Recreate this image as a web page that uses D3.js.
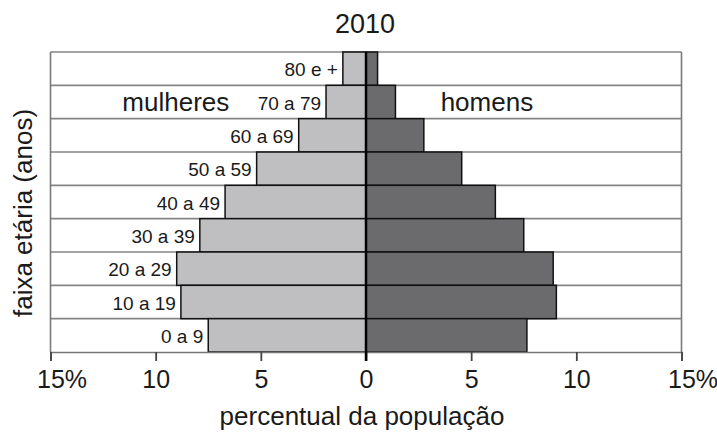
<!DOCTYPE html>
<html>
<head lang="pt">
  <title>Pirâmide etária 2010</title>
  <script src="https://d3js.org/d3.v7.min.js" charset="utf-8"></script>
  <style>
    body { margin: 0; background: #fff; }
    text { font-family: "Liberation Sans", Arial, sans-serif; fill: #1a1a1a; }
  </style>
</head>
<body>
  <script>
    // faixas etárias, de cima para baixo
    var faixas = ["80 e +", "70 a 79", "60 a 69", "50 a 59", "40 a 49", "30 a 39", "20 a 29", "10 a 19", "0 a 9"];
    var mulheres = [1.1, 1.9, 3.2, 5.2, 6.7, 7.9, 9.0, 8.8, 7.5];
    var homens = [0.55, 1.4, 2.75, 4.55, 6.15, 7.5, 8.9, 9.05, 7.65];
    var ticks = [-15, -10, -5, 0, 5, 10, 15];

    var width = 717;
    var height = 434;

    var svg = d3.select("body")
      .append("svg")
      .attr("width", width)
      .attr("height", height);

    var x = d3.scaleLinear()
      .domain([-15, 15])
      .range([50.5, 681.5]);

    var y = d3.scaleBand()
      .domain(faixas)
      .range([52, 352])
      .padding(0);

    var dados = faixas.map(function(f, i) {
      return { faixa: f, m: mulheres[i], h: homens[i] };
    });

    // linhas das faixas
    svg.append("g")
      .selectAll("line")
      .data(faixas)
      .enter().append("line")
        .attr("x1", x(-15))
        .attr("x2", x(15))
        .attr("y1", function(d) { return y(d); })
        .attr("y2", function(d) { return y(d); })
        .style("stroke", "#858585")
        .style("stroke-width", 1.6);

    // moldura lateral
    svg.append("g")
      .selectAll("line")
      .data([-15, 15])
      .enter().append("line")
        .attr("x1", function(d) { return x(d); })
        .attr("x2", function(d) { return x(d); })
        .attr("y1", y.range()[0])
        .attr("y2", y.range()[1])
        .style("stroke", "#7a7a7a")
        .style("stroke-width", 1.6);

    // barras mulheres
    svg.append("g")
      .selectAll("rect")
      .data(dados)
      .enter().append("rect")
        .attr("x", function(d) { return x(-d.m); })
        .attr("y", function(d) { return y(d.faixa); })
        .attr("width", function(d) { return x(0) - x(-d.m); })
        .attr("height", y.bandwidth())
        .style("fill", "#bfbfc1")
        .style("stroke", "#111")
        .style("stroke-width", 1.5);

    // barras homens
    svg.append("g")
      .selectAll("rect")
      .data(dados)
      .enter().append("rect")
        .attr("x", x(0))
        .attr("y", function(d) { return y(d.faixa); })
        .attr("width", function(d) { return x(d.h) - x(0); })
        .attr("height", y.bandwidth())
        .style("fill", "#6b6b6d")
        .style("stroke", "#111")
        .style("stroke-width", 1.5);

    // eixo x
    var eixo = svg.append("g")
      .attr("transform", "translate(0," + y.range()[1] + ")")
      .call(d3.axisBottom(x)
        .tickValues(ticks)
        .tickSize(9)
        .tickPadding(9)
        .tickFormat(function(d) { return Math.abs(d) === 15 ? "15%" : Math.abs(d); }));

    eixo.select(".domain")
      .style("stroke", "#777")
      .style("stroke-width", 1.6);
    eixo.selectAll(".tick line")
      .style("stroke", "#444")
      .style("stroke-width", 1.8);
    eixo.selectAll(".tick text")
      .style("font-size", "25px")
      .style("font-family", "'Liberation Sans', Arial, sans-serif")
      .style("fill", "#1a1a1a")
      .filter(function(d) { return Math.abs(d) === 15; })
        .attr("text-anchor", "start")
        .attr("x", -14);

    // linha central
    svg.append("line")
      .attr("x1", x(0))
      .attr("x2", x(0))
      .attr("y1", y.range()[0])
      .attr("y2", y.range()[1] + 9)
      .style("stroke", "#000")
      .style("stroke-width", 2.5);

    // rótulos das faixas
    svg.append("g")
      .selectAll("text")
      .data(dados)
      .enter().append("text")
        .attr("x", function(d) { return x(-d.m) - 5; })
        .attr("y", function(d) { return y(d.faixa) + y.bandwidth() / 2; })
        .attr("dy", "0.4em")
        .attr("text-anchor", "end")
        .style("font-size", "19px")
        .text(function(d) { return d.faixa; });

    svg.append("text")
      .attr("x", x(-6.5))
      .attr("y", y("70 a 79") + y.bandwidth() / 2 + 9)
      .attr("text-anchor", "end")
      .style("font-size", "26px")
      .text("mulheres");

    svg.append("text")
      .attr("x", x(3.55))
      .attr("y", y("70 a 79") + y.bandwidth() / 2 + 9)
      .style("font-size", "26px")
      .text("homens");

    // título
    svg.append("text")
      .attr("x", 365)
      .attr("y", 33)
      .attr("text-anchor", "middle")
      .style("font-size", "27px")
      .text("2010");

    svg.append("text")
      .attr("x", 362)
      .attr("y", 425)
      .attr("text-anchor", "middle")
      .style("font-size", "26px")
      .text("percentual da população");

    svg.append("text")
      .attr("transform", "translate(32,213) rotate(-90)")
      .attr("text-anchor", "middle")
      .style("font-size", "26px")
      .text("faixa etária (anos)");
  </script>
</body>
</html>
